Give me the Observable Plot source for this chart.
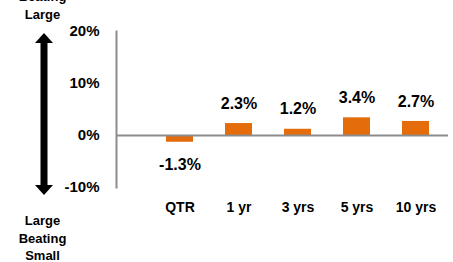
<!DOCTYPE html>
<html><head><meta charset="utf-8">
<script src="https://cdn.jsdelivr.net/npm/d3@7"></script>
<script src="https://cdn.jsdelivr.net/npm/@observablehq/plot@0.6"></script>
<style>body{margin:0;background:#fff}</style>
</head><body><div id="chart"></div>
<script>
const categories = ["QTR", "1 yr", "3 yrs", "5 yrs", "10 yrs"];
const values = [-1.3, 2.3, 1.2, 3.4, 2.7];
const yTicks = [-10, 0, 10, 20];
const topLabel = ["Small", "Beating", "Large"];
const bottomLabel = ["Large", "Beating", "Small"];

const data = categories.map((c, i) => ({cat: c, v: values[i]}));
const sans = "'Liberation Sans', Arial, sans-serif";

const chart = Plot.plot({
  width: 453, height: 262,
  marginLeft: 116, marginRight: 5, marginTop: 31, marginBottom: 75,
  style: {fontFamily: sans, fontWeight: "bold", color: "#000", background: "#fff", overflow: "visible"},
  x: {domain: categories, range: [131, 463], padding: 0.55, axis: null},
  y: {domain: [-10, 20], axis: null},
  marks: [
    Plot.barY(data, {x: "cat", y: "v", fill: "#E46C0A"}),
    Plot.ruleY([0], {stroke: "#8c8c8c", strokeWidth: 2}),
    Plot.frame({anchor: "left", stroke: "#8c8c8c", strokeWidth: 2}),
    Plot.text(yTicks, {y: d => d, text: d => d + "%", frameAnchor: "left", dx: -17, textAnchor: "end", fontSize: 15}),
    Plot.text(data.filter(d => d.v >= 0), {x: "cat", y: "v", text: d => d.v.toFixed(1) + "%", dy: -20, fontSize: 16}),
    Plot.text(data.filter(d => d.v < 0), {x: "cat", y: "v", text: d => d.v.toFixed(1) + "%", dy: 23, fontSize: 16}),
    Plot.text(data, {x: "cat", text: "cat", frameAnchor: "bottom", dy: 24, fontSize: 14}),
    Plot.text([topLabel.join("\n")], {text: d => d, frameAnchor: "top-left", dx: -74, dy: -13, textAnchor: "middle", lineAnchor: "bottom", lineHeight: 1.35, fontSize: 13}),
    Plot.text([bottomLabel.join("\n")], {text: d => d, frameAnchor: "bottom-left", dx: -74, dy: 25, textAnchor: "middle", lineAnchor: "top", lineHeight: 1.35, fontSize: 13})
  ]
});

// decorative double-headed arrow
const svg = d3.select(chart);
svg.append("path")
  .attr("d", "M44,33 L53,43 L47.5,43 L47.5,185 L53,185 L44,195 L35,185 L40.5,185 L40.5,43 L35,43 Z")
  .attr("fill", "#000");

document.getElementById("chart").appendChild(chart);
</script>
</body></html>
